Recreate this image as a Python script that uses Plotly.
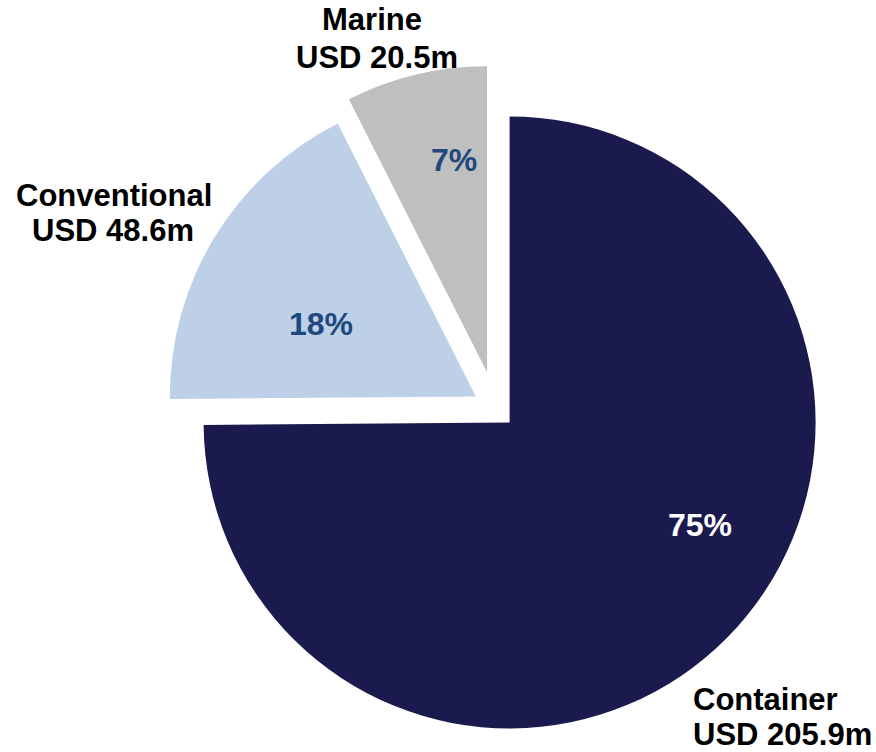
import plotly.graph_objects as go

# ---- data ----
categories = ["Container", "Conventional", "Marine"]
values_musd = [205.9, 48.6, 20.5]
value_labels = ["USD 205.9m", "USD 48.6m", "USD 20.5m"]

# ---- styles ----
colors = ["#1B1A4E", "#BDD0E8", "#BFBFBF"]
pct_colors = ["#FFFFFF", "#1F497D", "#1F497D"]
pulls = [0.064, 0.076, 0.122]

W, H = 876, 752
R_PX = 306
box = 2 * R_PX * (1 + max(pulls))
cx = 495.7
dom_x = [(cx - 362) / W, (cx + 362) / W]
dom_y = [0, box / H]

total = sum(values_musd)
pct_text = [f"{round(v / total * 100):.0f}%" for v in values_musd]

fig = go.Figure(
    go.Pie(
        labels=categories,
        values=values_musd,
        sort=False,
        direction="clockwise",
        rotation=0,
        pull=pulls,
        marker=dict(colors=colors, line=dict(width=0)),
        textinfo="none",
        hoverinfo="none",
        domain=dict(x=dom_x, y=dom_y),
        showlegend=False,
    )
)

# label positions (pixel centers) for category / value lines and percentages
name_pos = [(765.5, 699.5), (114, 195.5), (372, 20)]
value_pos = [(782.5, 734.5), (113, 230.5), (377, 57.5)]
pct_pos = [(699.5, 524.5), (321, 323.7), (454, 160.3)]

label_font = dict(family="Liberation Sans, Arial, sans-serif", size=31, color="#000000")
annotations = []
for i in range(len(categories)):
    for txt, (px, py) in ((f"<b>{categories[i]}</b>", name_pos[i]),
                          (f"<b>{value_labels[i]}</b>", value_pos[i])):
        annotations.append(dict(
            x=px / W, y=1 - py / H, xref="paper", yref="paper",
            text=txt, showarrow=False, xanchor="center", yanchor="middle",
            font=label_font,
        ))
    px, py = pct_pos[i]
    annotations.append(dict(
        x=px / W, y=1 - py / H, xref="paper", yref="paper",
        text=f"<b>{pct_text[i]}</b>", showarrow=False,
        xanchor="center", yanchor="middle",
        font=dict(family="Liberation Sans Narrow, Arial Narrow, Liberation Sans, sans-serif",
                  size=32, color=pct_colors[i]),
    ))

fig.update_layout(
    width=W, height=H,
    margin=dict(l=0, r=0, t=0, b=0),
    paper_bgcolor="white",
    plot_bgcolor="white",
    annotations=annotations,
)

fig.write_html("out.html")
